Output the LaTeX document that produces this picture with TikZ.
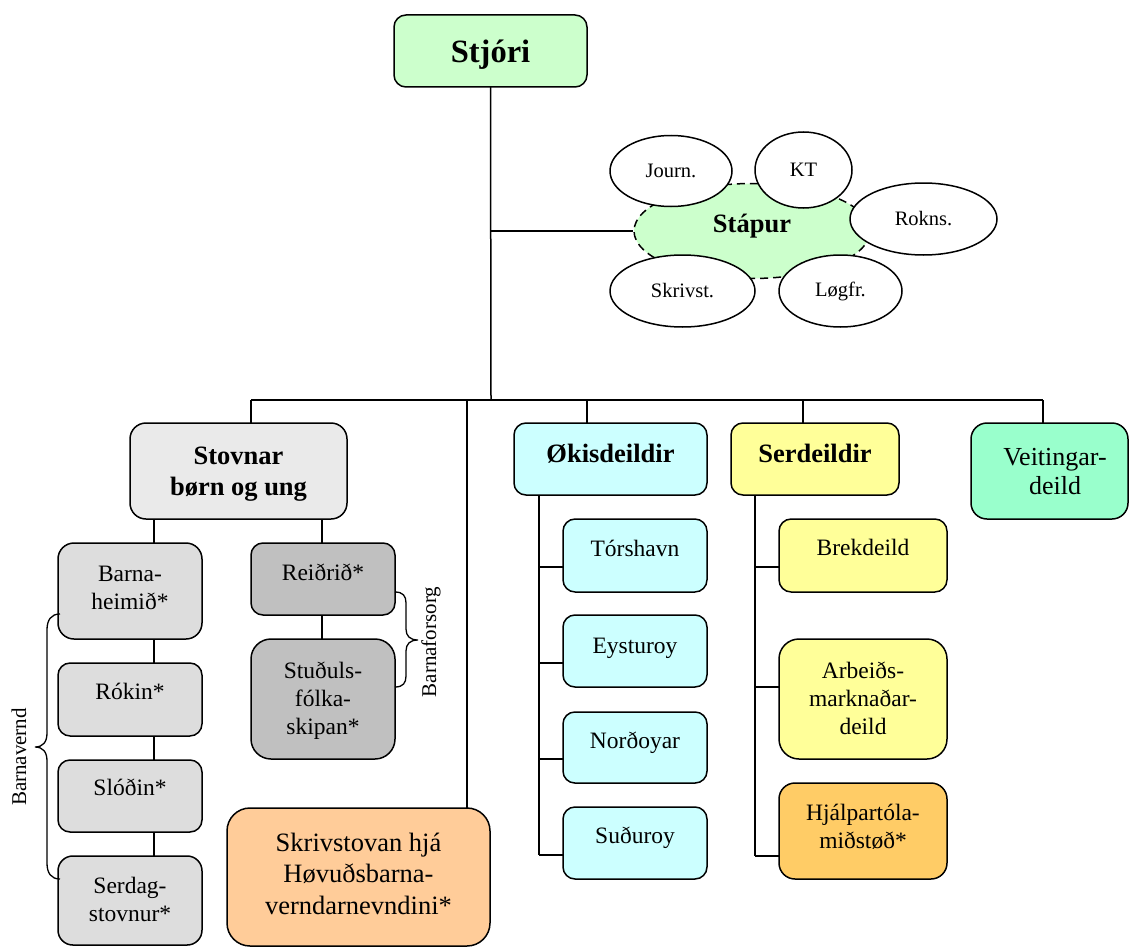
\documentclass[tikz,border=0pt]{standalone}
\usepackage{fontspec}
\setmainfont{Liberation Serif}
\usetikzlibrary{shapes.geometric,calc}
\definecolor{cgreen}{HTML}{CCFFCC}
\definecolor{ccyan}{HTML}{CCFFFF}
\definecolor{cyell}{HTML}{FFFF99}
\definecolor{corange}{HTML}{FFCC99}
\definecolor{cgold}{HTML}{FFCC66}
\definecolor{cmint}{HTML}{99FFCC}
\definecolor{cgrayA}{HTML}{EAEAEA}
\definecolor{cgrayB}{HTML}{DDDDDD}
\definecolor{cgrayC}{HTML}{C0C0C0}
\newcommand\ftnorm{\fontsize{23.5}{28}\selectfont}
\newcommand\fthead{\fontsize{26.5}{31}\selectfont\bfseries}
\newcommand\ftbig{\fontsize{26.5}{31.5}\selectfont}
\newcommand\ftveit{\fontsize{26}{29}\selectfont}
\newcommand\fttop{\fontsize{32.5}{38}\selectfont\bfseries}
\newcommand\ftell{\fontsize{20.5}{24}\selectfont}
\newcommand\ftlab{\fontsize{21}{24}\selectfont}
\newcommand\orgbox[8]{%
  \pgfmathsetmacro\obcx{(#3+#5)/2}%
  \pgfmathsetmacro\obcy{(#4+#6)/2}%
  \pgfmathsetmacro\obw{#5-#3}%
  \pgfmathsetmacro\obh{#6-#4}%
  \pgfmathsetmacro\obr{min(\obw,\obh)/6}%
  \node[boxbase,#2,rounded corners=\obr pt] (#1) at (\obcx,\obcy)
    {\parbox[c][\obh pt][t]{\obw pt}{\centering\rule{0pt}{#7pt}#8}};%
}
\tikzset{
  boxbase/.style={draw, line width=1.5pt, inner sep=0pt, outer sep=0pt, font=\ftnorm},
  conn/.style={line width=1.5pt},
  ell/.style={ellipse, draw, fill=white, line width=1.5pt, inner sep=0pt, font=\ftell},
  brace/.style={line width=1.3pt},
  sidelab/.style={rotate=90, font=\ftlab, inner sep=0pt}
}
\begin{document}
\begin{tikzpicture}[x=1pt, y=-1pt]
\path[use as bounding box, fill=white] (0,0) rectangle (1129,947);

% boxes
\orgbox{stjori}{fill=cgreen,font=\fttop}{394}{15}{587}{87}{48}{Stjóri}
\orgbox{stovnar}{fill=cgrayA,font=\fthead}{130}{423}{347}{519}{41}{Stovnar\\børn og ung}
\orgbox{barn}{fill=cgrayB}{58}{543}{202}{639}{38}{Barna-\\heimið*}
\orgbox{rokin}{fill=cgrayB}{58}{663}{202}{736}{36}{Rókin*}
\orgbox{slodin}{fill=cgrayB}{58}{760}{202}{832}{35}{Slóðin*}
\orgbox{serdag}{fill=cgrayB}{58}{856}{202}{945}{37}{Serdag-\\stovnur*}
\orgbox{reid}{fill=cgrayC}{251}{543}{395}{615}{37}{Reiðrið*}
\orgbox{studul}{fill=cgrayC}{251}{639}{395}{759}{39}{Stuðuls-\\fólka-\\skipan*}
\orgbox{skriv}{fill=corange,font=\ftbig}{227}{808}{490}{946}{43}{Skrivstovan hjá\\Høvuðsbarna-\\verndarnevndini*}
\orgbox{okis}{fill=ccyan,font=\fthead}{514}{423}{707}{495}{39}{Økisdeildir}
\orgbox{tors}{fill=ccyan}{563}{519}{707}{592}{37}{Tórshavn}
\orgbox{eyst}{fill=ccyan}{563}{615}{707}{687}{38}{Eysturoy}
\orgbox{nord}{fill=ccyan}{563}{712}{707}{783}{36}{Norðoyar}
\orgbox{sudu}{fill=ccyan}{563}{807}{707}{879}{36}{Suðuroy}
\orgbox{serd}{fill=cyell,font=\fthead}{731}{423}{899}{495}{39}{Serdeildir}
\orgbox{brek}{fill=cyell}{779}{519}{947}{592}{36}{Brekdeild}
\orgbox{arb}{fill=cyell}{779}{639}{947}{759}{39}{Arbeiðs-\\marknaðar-\\deild}
\orgbox{hjalp}{fill=cgold}{779}{783}{947}{879}{37}{Hjálpartóla-\\miðstøð*}
\orgbox{veit}{fill=cmint,font=\ftveit}{971}{423}{1128}{519}{42}{\hspace*{11pt}Veitingar-\\\hspace*{11pt}deild}

% staff
\node[ellipse, draw, dash pattern=on 8pt off 5pt, fill=cgreen, line width=1.5pt,
      minimum width=236pt, minimum height=95pt, inner sep=0pt, font=\fthead,
      text height=12pt, text depth=8.6pt] (stapur) at (752,231) {Stápur};
\node[ell, minimum width=122pt, minimum height=71pt] (journ) at (671,171) {Journ.};
\node[ell, minimum width=97pt, minimum height=76pt] (kt) at (803.5,170) {KT};
\node[ell, minimum width=147pt, minimum height=72pt] (rokns) at (923.5,219) {Rokns.};
\node[ell, minimum width=145pt, minimum height=72pt] (skrivst) at (682.5,291) {Skrivst.};
\node[ell, minimum width=123pt, minimum height=72pt] (logfr) at (840.5,291) {Løgfr.};

% connectors
\coordinate (bar) at (491,400);
\coordinate (bL) at (251,400);
\coordinate (bR) at (1043,400);
\coordinate (bS) at (467,400);
\coordinate (bO) at (587,400);
\coordinate (bE) at (803,400);
\draw[conn] (stjori.south) -- (bar);
\draw[conn] (stjori.south |- stapur.west) -- (stapur.west);
\draw[conn] (bL) -- (bR);
\draw[conn] (bL) -- (bL |- stovnar.north);
\draw[conn] (bS) -- (bS |- skriv.north);
\draw[conn] (bO) -- (bO |- okis.north);
\draw[conn] (bE) -- (bE |- serd.north);
\draw[conn] (bR) -- (bR |- veit.north);

\coordinate (sl) at (154,0);
\coordinate (sr) at (322,0);
\draw[conn] (sl |- stovnar.south) -- (sl |- barn.north);
\draw[conn] (sl |- barn.south) -- (sl |- rokin.north);
\draw[conn] (sl |- rokin.south) -- (sl |- slodin.north);
\draw[conn] (sl |- slodin.south) -- (sl |- serdag.north);
\draw[conn] (sr |- stovnar.south) -- (sr |- reid.north);
\draw[conn] (sr |- reid.south) -- (sr |- studul.north);

\coordinate (os) at (539,0);
\coordinate (o1) at (539,567);
\coordinate (o2) at (539,663);
\coordinate (o3) at (539,759);
\coordinate (o4) at (539,855);
\draw[conn] (os |- okis.south) -- (o4);
\draw[conn] (o1) -- (o1 -| tors.west);
\draw[conn] (o2) -- (o2 -| eyst.west);
\draw[conn] (o3) -- (o3 -| nord.west);
\draw[conn] (o4) -- (o4 -| sudu.west);

\coordinate (es) at (755,0);
\coordinate (e1) at (755,567);
\coordinate (e2) at (755,687);
\coordinate (e3) at (755,856);
\draw[conn] (es |- serd.south) -- (e3);
\draw[conn] (e1) -- (e1 -| brek.west);
\draw[conn] (e2) -- (e2 -| arb.west);
\draw[conn] (e3) -- (e3 -| hjalp.west);

% braces
\draw[brace] (60,614) .. controls (51,614) and (47,620) .. (47,630) -- (47,733)
  .. controls (47,742) and (43,747) .. (35,747)
  .. controls (43,747) and (47,752) .. (47,761) -- (47,863)
  .. controls (47,873) and (51,879) .. (60,879);
\draw[brace] (395,592) .. controls (403,592) and (406,596) .. (406,603) -- (406,629)
  .. controls (406,636) and (410,640) .. (418,640)
  .. controls (410,640) and (406,644) .. (406,651) -- (406,676)
  .. controls (406,683) and (403,687) .. (395,687);
\node[sidelab] (lbv) at (19,757) {Barnavernd};
\node[sidelab] (lbf) at (431,642) {Barnaforsorg};
\end{tikzpicture}
\end{document}
